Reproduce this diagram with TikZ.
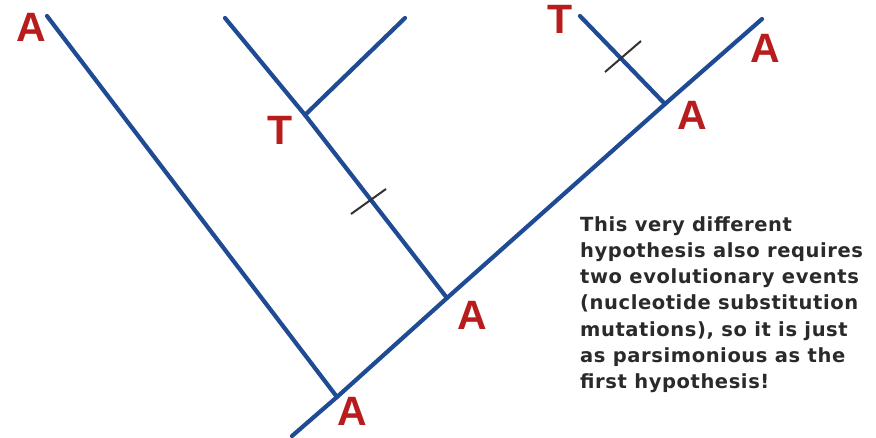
\documentclass[tikz,border=0pt]{standalone}
\usepackage{fontspec}
\setmainfont{Liberation Sans}
\newfontfamily\notefont[LetterSpace=3]{DejaVu Sans Bold}
\definecolor{branchblue}{HTML}{1F4A94}
\definecolor{labelred}{HTML}{B81C1C}
\definecolor{tickgray}{HTML}{333333}
\definecolor{notegray}{HTML}{2A2A2A}
\tikzset{
  branch/.style={draw=branchblue, line width=4.2pt, line cap=round},
  tickmark/.style={draw=tickgray, line width=2pt},
  base/.style={font=\fontsize{41}{41}\selectfont\bfseries, text=labelred, inner sep=0pt},
  notetext/.style={font=\notefont\fontsize{19.5}{26.3}\selectfont, text=notegray, align=left, inner sep=0pt, anchor=north west}
}
\begin{document}
\begin{tikzpicture}[x=1pt,y=-1pt]
\useasboundingbox[fill=white] (0,0) rectangle (876,438);
% points of the tree
\coordinate (root) at (292,436);
\coordinate (j1) at (337,397);
\coordinate (j2) at (447,298);
\coordinate (j3) at (665,104);
\coordinate (tipR) at (762,19);
\coordinate (tipL) at (47,16);
\coordinate (tipM) at (225,18);
\coordinate (jT) at (305,115);
\coordinate (tipM2) at (405,18);
\coordinate (tipT) at (580,16);
% tick mark ends
\coordinate (k1a) at (351,214);
\coordinate (k1b) at (386,189);
\coordinate (k2a) at (605,72);
\coordinate (k2b) at (641,41);
% branches
\draw[branch] (root) -- (j1) -- (j2) -- (j3) -- (tipR);
\draw[branch] (tipL) -- (j1);
\draw[branch] (tipM) -- (jT) -- (j2);
\draw[branch] (jT) -- (tipM2);
\draw[branch] (tipT) -- (j3);
% mutation marks
\draw[tickmark] (k1a) -- (k1b);
\draw[tickmark] (k2a) -- (k2b);
% base labels
\node[base] (lA1) at (31,27) {A};
\node[base] (lT1) at (280,130) {T};
\node[base] (lT2) at (560,19) {T};
\node[base] (lA2) at (765,48) {A};
\node[base] (lA3) at (692,115) {A};
\node[base] (lA4) at (472,315) {A};
\node[base] (lA5) at (352,411) {A};
% note
\node[notetext] (note) at (580,216) {This very different\\hypothesis also requires\\two evolutionary events\\(nucleotide substitution\\mutations), so it is just\\as parsimonious as the\\first hypothesis!};
\end{tikzpicture}
\end{document}
